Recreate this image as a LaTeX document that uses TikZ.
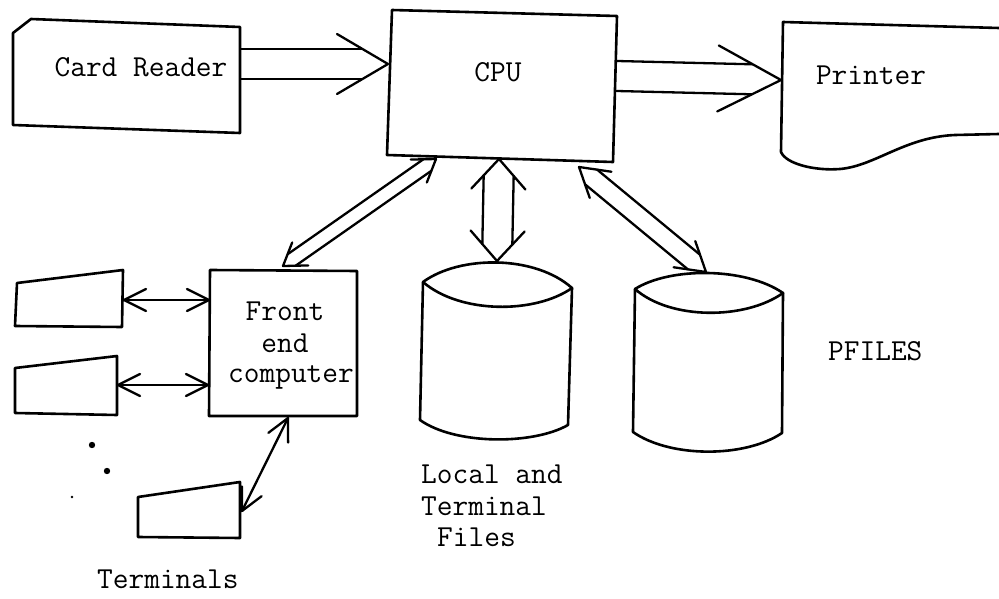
\documentclass[tikz,border=0pt]{standalone}
\usepackage{fontspec}
\usetikzlibrary{calc}
\tikzset{
  outline/.style={draw, line width=2.6pt, line join=round, line cap=round},
  wire/.style={draw, line width=2.3pt, line join=round, line cap=round},
  lbl/.style={inner sep=0pt, font=\fontsize{30.5}{31.5}\selectfont\ttfamily\addfontfeatures{FakeBold=0.6}},
}
\newcommand{\openhead}[4]{%
  \coordinate (ohb) at ($(#1)!#4!(#2)$);
  \draw[wire] ($(ohb)!#3!-90:(#1)$) -- (#1) -- ($(ohb)!#3!90:(#1)$);}
\newcommand{\fatshaft}[5]{%
  \coordinate (fsa) at ($(#1)!#4!(#2)$);
  \coordinate (fsb) at ($(#2)!#5!(#1)$);
  \draw[wire] ($(fsa)!#3!90:(fsb)$) -- ($(fsb)!#3!-90:(fsa)$);
  \draw[wire] ($(fsa)!#3!-90:(fsb)$) -- ($(fsb)!#3!90:(fsa)$);}
\begin{document}
\begin{tikzpicture}[x=1pt,y=-1pt]
\useasboundingbox (0,0) rectangle (999,599);

% ---- shapes ----
% Card reader
\draw[outline] (13,33) -- (31,19) -- (240,27) -- (240,133) -- (13,125) -- cycle;
% CPU
\draw[outline] (392,10) -- (617,16) -- (613,162) -- (387,155) -- cycle;
% Printer (cut by the right edge)
\draw[outline] (999,28) -- (783,22) -- (781,152)
  .. controls (786,164) and (815,171) .. (840,169)
  .. controls (875,166) and (905,137) .. (955,135) -- (999,134);
% Front end computer
\draw[outline] (210,270) -- (357,271) -- (357,416) -- (209,416) -- cycle;
% Terminals
\draw[outline] (17,283) -- (123,270) -- (122,327) -- (15,326) -- cycle;
\draw[outline] (15,368) -- (117,356) -- (117,415) -- (15,413) -- cycle;
\draw[outline] (138,497) -- (240,482) -- (240,538) -- (138,537) -- cycle;
\fill (92,445) circle (3.2);
\fill (107,471) circle (3.2);
\fill (72,497) circle (1.4);
% Local and terminal files cylinder
\draw[outline] (423,282) .. controls (460,255) and (535,255) .. (572,288)
  .. controls (535,314) and (460,314) .. (423,282);
\draw[outline] (423,282) -- (420,420)
  .. controls (455,445) and (533,445) .. (568,425) -- (572,288);
% PFILES cylinder
\draw[outline] (635,289) .. controls (670,267) and (745,267) .. (783,293)
  .. controls (745,320) and (670,320) .. (635,289);
\draw[outline] (635,289) -- (633,432)
  .. controls (670,458) and (745,458) .. (782,433) -- (783,293);

% ---- texts ----
\node[lbl, anchor=base] (cr) at (141,77) {Card Reader};
\node[lbl, anchor=base] (cpu) at (498,82) {CPU};
\node[lbl, anchor=base] (prn) at (871,85) {Printer};
\node[lbl, anchor=base] (fe) at (285,320) {Front};
\node[lbl, anchor=base] (fe2) at (285,352) {end};
\node[lbl, anchor=base] (fe3) at (291,382) {computer};
\node[lbl, anchor=base west] (loc) at (421,483) {Local and};
\node[lbl, anchor=base west] (loc2) at (421,515) {Terminal};
\node[lbl, anchor=base west] (loc3) at (437,546) {Files};
\node[lbl, anchor=base west] (pf) at (828,360) {PFILES};
\node[lbl, anchor=base west] (terms) at (97,588) {Terminals};

% ---- connection points ----
\coordinate (crOut) at (241,64);
\coordinate (cpuInL) at (388,64);
\coordinate (cpuOutR) at (617,76);
\coordinate (prnIn) at (781,80);
\coordinate (cpuB1) at (436,159);
\coordinate (feT) at (283,266);
\coordinate (cpuB2) at (499,159);
\coordinate (locT) at (497,261);
\coordinate (cpuB3) at (579,167);
\coordinate (pfT) at (706,272);
\coordinate (t1R) at (124,300);
\coordinate (feL1) at (209,300);
\coordinate (t2R) at (118,385);
\coordinate (feL2) at (208,385);
\coordinate (t3T) at (242,511);
\coordinate (feB) at (288,418);

% ---- fat arrows ----
\fatshaft{crOut}{cpuInL}{15pt}{0pt}{26pt}
\openhead{cpuInL}{crOut}{30pt}{51pt}

\fatshaft{cpuOutR}{prnIn}{15pt}{0pt}{29pt}
\openhead{prnIn}{cpuOutR}{33pt}{63pt}

\fatshaft{feT}{cpuB1}{7pt}{10.5pt}{10.5pt}
\openhead{feT}{cpuB1}{14pt}{21pt}
\openhead{cpuB1}{feT}{14pt}{21pt}

\fatshaft{cpuB2}{locT}{15pt}{16.7pt}{16.7pt}
\openhead{cpuB2}{locT}{27pt}{30pt}
\openhead{locT}{cpuB2}{27pt}{30pt}

\fatshaft{cpuB3}{pfT}{9.5pt}{15.6pt}{15.6pt}
\openhead{cpuB3}{pfT}{17pt}{28pt}
\openhead{pfT}{cpuB3}{17pt}{28pt}

% ---- thin arrows ----
\draw[wire] (t1R) -- (feL1);
\openhead{t1R}{feL1}{11pt}{22pt}
\openhead{feL1}{t1R}{11pt}{22pt}
\draw[wire] (t2R) -- (feL2);
\openhead{t2R}{feL2}{11pt}{22pt}
\openhead{feL2}{t2R}{11pt}{22pt}
\draw[wire] (t3T) -- (feB);
\openhead{t3T}{feB}{11pt}{22pt}
\openhead{feB}{t3T}{11pt}{22pt}
\end{tikzpicture}
\end{document}
